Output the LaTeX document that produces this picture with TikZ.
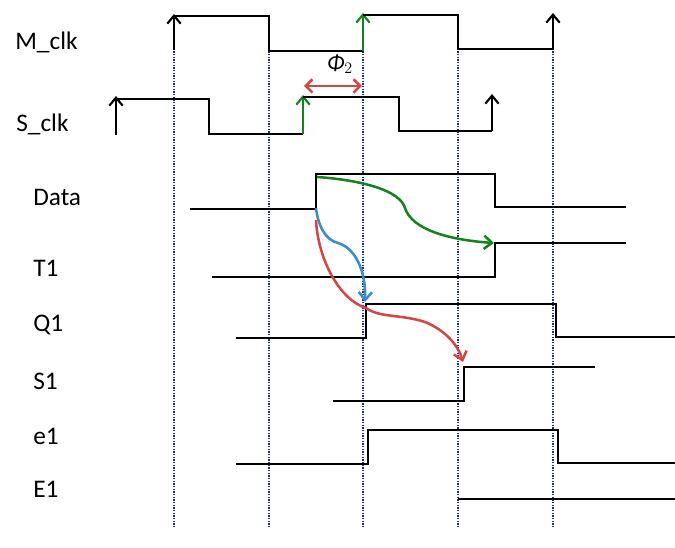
\documentclass[tikz,border=0pt]{standalone}
\usepackage{fontspec}
\setmainfont{Carlito}
\usetikzlibrary{arrows.meta}
\definecolor{navy}{RGB}{30,40,140}
\definecolor{mgreen}{RGB}{20,130,30}
\definecolor{mblue}{RGB}{60,140,200}
\definecolor{mred}{RGB}{210,70,70}
\begin{document}
\begin{tikzpicture}[x=0.75pt,y=-0.75pt,
  sig/.style={line width=1.6pt,black},
  grid/.style={navy,line width=1.3pt,dash pattern=on 0.9pt off 1.1pt},
  lab/.style={anchor=west,inner sep=0pt,font=\fontsize{19}{19}\selectfont},
  tip/.style={-{Straight Barb[length=6pt,width=10pt,line width=1.6pt]}},
  flow/.style={line width=1.9pt,-{Straight Barb[length=6pt,width=10pt,line width=1.9pt]}}]
\useasboundingbox (0,0) rectangle (675,548);
% grid lines
\foreach \x in {174,269,363,458,553} \draw[grid] (\x,22) -- (\x,528);
% labels
\node[lab] (lm) at (15,42) {M\_clk};
\node[lab] (ls) at (16,124) {S\_clk};
\node[lab] (ld) at (33,197) {Data};
\node[lab] (lt) at (33,268) {T1};
\node[lab] (lq) at (33,325) {Q1};
\node[lab] (ls1) at (33,381) {S1};
\node[lab] (le) at (33,436) {e1};
\node[lab] (lE) at (33,489) {E1};
% M_clk
\draw[sig,tip] (174,50) -- (174,14);
\draw[sig] (174,16) -- (269,16) -- (269,51) -- (363,51);
\draw[sig,mgreen,tip] (363,51) -- (363,13);
\draw[sig] (363,15) -- (458,15) -- (458,49) -- (553,49);
\draw[sig,tip] (553,49) -- (553,13);
% S_clk
\draw[sig,tip] (116,135) -- (116,96);
\draw[sig] (116,99) -- (209,99) -- (209,134) -- (303,134);
\draw[sig,mgreen,tip] (303,134) -- (303,95);
\draw[sig] (303,97) -- (399,97) -- (399,131) -- (492,131);
\draw[sig,tip] (492,131) -- (492,94);
% phi2
\draw[mred,line width=1.9pt,{Straight Barb[length=5pt,width=10pt,line width=1.9pt]}-{Straight Barb[length=5pt,width=10pt,line width=1.9pt]}] (304,86) -- (362,86);
\node[inner sep=0pt,font=\fontsize{17}{17}\selectfont] (phi) at (340,64) {\textit{Φ}$_{2}$};
% Data
\draw[sig] (190,209) -- (316,209) -- (316,174) -- (495,174) -- (495,207) -- (626,207);
% T1
\draw[sig] (212,277) -- (495,277) -- (495,243) -- (626,243);
% Q1
\draw[sig] (236,338) -- (366,338) -- (366,304) -- (556,304) -- (556,337) -- (675,337);
% S1
\draw[sig] (333,401) -- (464,401) -- (464,367) -- (595,367);
% e1
\draw[sig] (236,464) -- (368,464) -- (368,430) -- (558,430) -- (558,463) -- (675,463);
% E1
\draw[sig] (458,499) -- (675,499);
% causal arrows
\draw[flow,mgreen] (317,177) .. controls (360,180) and (400,190) .. (405,208)
   .. controls (412,230) and (450,240) .. (494,243);
\draw[flow,mblue] (316,208) .. controls (318,225) and (325,240) .. (338,243)
   .. controls (355,248) and (366,270) .. (365,302);
\draw[flow,mred] (316,220) .. controls (318,260) and (340,300) .. (366,308)
   .. controls (380,318) and (400,314) .. (425,322)
   .. controls (445,330) and (458,345) .. (463,362);
\end{tikzpicture}
\end{document}
